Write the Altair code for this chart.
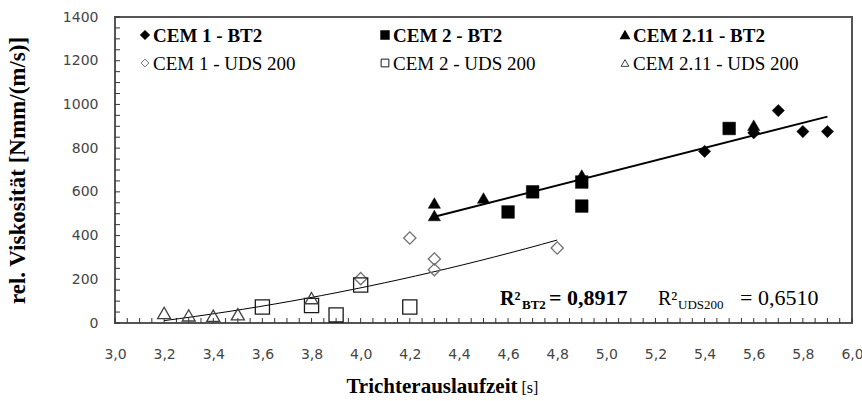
import altair as alt
import pandas as pd
import numpy as np

# ---------------- data ----------------
series_names = ["CEM 1 - BT2", "CEM 2 - BT2", "CEM 2.11 - BT2",
                "CEM 1 - UDS 200", "CEM 2 - UDS 200", "CEM 2.11 - UDS 200"]
series_group = ["BT2", "BT2", "BT2", "UDS200", "UDS200", "UDS200"]

cem1_bt2_t = [5.4, 5.6, 5.7, 5.8, 5.9]
cem1_bt2_v = [785, 870, 972, 876, 876]
cem2_bt2_t = [4.6, 4.7, 4.9, 4.9, 5.5]
cem2_bt2_v = [508, 600, 645, 535, 890]
cem211_bt2_t = [4.3, 4.3, 4.5, 4.9, 5.6]
cem211_bt2_v = [549, 492, 572, 677, 905]
cem1_uds_t = [4.0, 4.2, 4.3, 4.3, 4.8]
cem1_uds_v = [203, 389, 293, 244, 343]
cem2_uds_t = [3.6, 3.8, 3.9, 4.0, 4.2]
cem2_uds_v = [73, 80, 37, 174, 73]
cem211_uds_t = [3.2, 3.3, 3.4, 3.5, 3.8]
cem211_uds_v = [46, 35, 33, 40, 114]

x_tick_labels = [round(3.0 + 0.2 * i, 1) for i in range(16)]
y_tick_labels = [0, 200, 400, 600, 800, 1000, 1200, 1400]

r2_bt2 = "0,8917"
r2_uds = "0,6510"

# ---------------- build table ----------------
all_t = [cem1_bt2_t, cem2_bt2_t, cem211_bt2_t, cem1_uds_t, cem2_uds_t, cem211_uds_t]
all_v = [cem1_bt2_v, cem2_bt2_v, cem211_bt2_v, cem1_uds_v, cem2_uds_v, cem211_uds_v]
rows = []
for name, grp, ts, vs in zip(series_names, series_group, all_t, all_v):
    for t, v in zip(ts, vs):
        rows.append({"t": t, "v": v, "series": name, "group": grp})
df = pd.DataFrame(rows)

W, H = 737, 306
SERIF = "Liberation Serif, Times New Roman, serif"
SANS = "DejaVu Sans"

xscale = alt.Scale(domain=[3.0, 6.0], nice=False, zero=False)
yscale = alt.Scale(domain=[0, 1400], nice=False)

styles = {
    "CEM 1 - BT2": dict(shape="diamond", filled=True, color="black", size=150),
    "CEM 2 - BT2": dict(shape="square", filled=True, color="black", size=160),
    "CEM 2.11 - BT2": dict(shape="triangle-up", filled=True, color="black", size=150),
    "CEM 1 - UDS 200": dict(shape="diamond", filled=False, color="#707070", size=150),
    "CEM 2 - UDS 200": dict(shape="square", filled=False, color="#1a1a1a", size=200),
    "CEM 2.11 - UDS 200": dict(shape="triangle-up", filled=False, color="#404040", size=170),
}

x_enc = alt.X("t:Q", scale=xscale, axis=alt.Axis(
    values=x_tick_labels, labelExpr="replace(format(datum.value, '.1f'), '.', ',')",
    ticks=False, domain=False, grid=False, labelFont=SANS, labelFontSize=14,
    labelColor="#454545", labelPadding=24, title=None, labelFlush=False))
y_enc = alt.Y("v:Q", scale=yscale, axis=alt.Axis(
    values=y_tick_labels, format="d", ticks=False, domain=False, grid=False,
    labelFont=SANS, labelFontSize=14, labelColor="#454545", labelPadding=17,
    title="rel. Viskosität [Nmm/(m/s)]", titleFont=SERIF, titleFontSize=23,
    titleFontWeight="bold", titleColor="black", titlePadding=33))

layers = []

# inward ticks
xt = pd.DataFrame({"t": np.round(np.arange(3.0, 6.0001, 0.05), 2)})
yt = pd.DataFrame({"v": np.arange(0, 1400.1, 50)})
layers.append(alt.Chart(xt).mark_rule(color="#333333", strokeWidth=1).encode(
    x=x_enc, y=alt.value(H), y2=alt.value(H - 5)))
layers.append(alt.Chart(yt).mark_rule(color="#333333", strokeWidth=1).encode(
    y=y_enc, x=alt.value(0), x2=alt.value(5)))

# regression lines
layers.append(alt.Chart(df[df.group == "BT2"]).transform_regression(
    "t", "v", method="linear").mark_line(color="black", strokeWidth=2).encode(x=x_enc, y=y_enc))
layers.append(alt.Chart(df[df.group == "UDS200"]).transform_regression(
    "t", "v", method="poly", order=2).mark_line(color="black", strokeWidth=1).encode(x=x_enc, y=y_enc))

# points (UDS first, BT2 on top)
for name in series_names[3:] + series_names[:3]:
    st = styles[name]
    sub = df[df.series == name]
    if st["filled"]:
        mk = alt.Chart(sub).mark_point(shape=st["shape"], filled=True, fill=st["color"],
                                       stroke=st["color"], strokeWidth=0.5, opacity=1, size=st["size"])
    else:
        mk = alt.Chart(sub).mark_point(shape=st["shape"], filled=False, stroke=st["color"],
                                       strokeWidth=1.3, opacity=1, size=st["size"])
    layers.append(mk.encode(x=x_enc, y=y_enc))

# manual legend (3 columns x 2 rows, inside the plot)
col_x = [30, 270, 510]
row_y = [18, 46]
for i, name in enumerate(series_names):
    st = styles[name]
    cx = col_x[i % 3]
    cy = row_y[i // 3]
    leg_df = pd.DataFrame({"label": [name]})
    if st["filled"]:
        sym = alt.Chart(leg_df).mark_point(shape=st["shape"], filled=True, fill=st["color"],
                                           stroke=st["color"], opacity=1, size=55)
    else:
        sym = alt.Chart(leg_df).mark_point(shape=st["shape"], filled=False, stroke=st["color"],
                                           strokeWidth=1, opacity=1, size=60)
    layers.append(sym.encode(x=alt.value(cx), y=alt.value(cy)))
    layers.append(alt.Chart(leg_df).mark_text(
        align="left", baseline="middle", font=SERIF, fontSize=19,
        fontWeight="bold" if i < 3 else "normal", color="black").encode(
        x=alt.value(cx + 8), y=alt.value(cy + 1), text="label:N"))

# R² annotations
def txt(s, x, y, size, weight="normal", baseline="alphabetic"):
    return alt.Chart(pd.DataFrame({"s": [s]})).mark_text(
        align="left", baseline=baseline, font=SERIF, fontSize=size, fontWeight=weight,
        color="black").encode(x=alt.value(x), y=alt.value(y), text="s:N")

layers.append(txt("R²", 385, 288, 20, "bold"))
layers.append(txt("BT2", 407, 292, 13, "bold"))
layers.append(txt("= " + r2_bt2, 434, 288, 22, "bold"))
layers.append(txt("R²", 543, 288, 20))
layers.append(txt("UDS200", 563, 292, 13))
layers.append(txt("= " + r2_uds, 625, 288, 22))

# x axis title
layers.append(alt.Chart(pd.DataFrame({"s": ["Trichterauslaufzeit"]})).mark_text(
    align="right", baseline="alphabetic", font=SERIF, fontSize=21, fontWeight="bold",
    color="black").encode(x=alt.value(W / 2 + 34), y=alt.value(H + 70), text="s:N"))
layers.append(alt.Chart(pd.DataFrame({"s": ["[s]"]})).mark_text(
    align="left", baseline="alphabetic", font=SERIF, fontSize=16, fontWeight="normal",
    color="black").encode(x=alt.value(W / 2 + 38), y=alt.value(H + 70), text="s:N"))

chart = alt.layer(*layers).properties(
    width=W, height=H,
    autosize=alt.AutoSizeParams(type="none"),
    padding={"left": 115, "top": 17, "right": 10, "bottom": 78},
    background="white",
).configure_view(stroke="#555555", strokeWidth=2)

chart.save("out.html", embed_options={"renderer": "svg", "actions": False})
